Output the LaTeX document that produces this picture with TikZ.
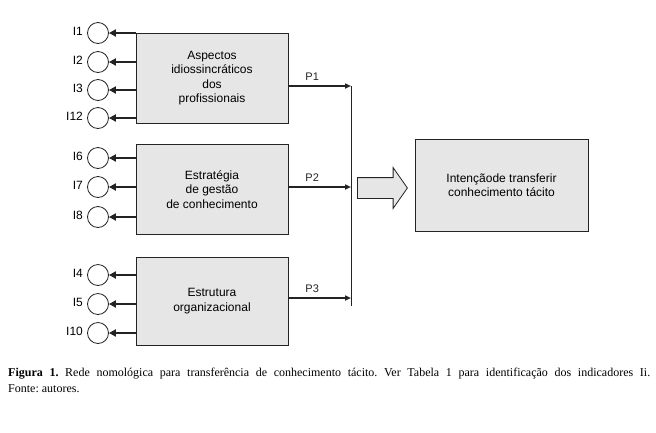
\documentclass[tikz,border=0pt]{standalone}
\usepackage{fontspec}
\setmainfont{Liberation Serif}
\setsansfont{Liberation Sans}
\usetikzlibrary{shapes.arrows,arrows.meta,positioning,calc}
\definecolor{boxgray}{RGB}{230,230,230}
\definecolor{inkgray}{RGB}{35,35,35}

\begin{document}
\begin{tikzpicture}[x=1pt, y=-1pt,
  every node/.style={font=\sffamily\fontsize{12}{14.5}\selectfont},
  constr/.style={draw=inkgray, line width=0.9pt, fill=boxgray, minimum width=152pt, minimum height=90pt, align=center, inner sep=0pt},
  ind/.style={draw=inkgray, line width=0.8pt, circle, minimum size=21pt, inner sep=0pt, fill=white},
  ilabel/.style={font=\sffamily\fontsize{12}{14}\selectfont, inner sep=0pt},
  load/.style={-{Triangle[length=7pt,width=7pt]}, line width=2pt, inkgray},
  hyp/.style={-{Triangle[length=6pt,width=5pt]}, line width=1.6pt, inkgray}
]
\useasboundingbox (0,0) rectangle (656,432);

% constructs
\node[constr] (b1) at (212,78) {Aspectos\\idiossincráticos\\dos\\profissionais};
\node[constr] (b2) at (212,189.5) {Estratégia\\de gestão\\de conhecimento};
\node[constr, minimum height=88pt] (b3) at (212,301) {Estrutura\\organizacional};

% indicators
\foreach \n/\y/\b in {1/33/b1, 2/62/b1, 3/90/b1, 12/118/b1, 6/158/b2, 7/187/b2, 8/217/b2, 4/275/b3, 5/304/b3, 10/333/b3}
{
  \node[ind, label={[ilabel, label distance=4pt, yshift=1.5pt]left:I\n}] (i\n) at (98,\y) {};
  \draw[load] (\b.west |- i\n) -- (i\n);
}

% paths
\coordinate (j1) at (351,86);
\coordinate (j2) at (351,187);
\coordinate (j3) at (351,298);
\coordinate (jb) at (351,306);
\draw[inkgray, line width=0.9pt] (j1) -- (jb);
\draw[hyp] (b1.east |- j1) -- node[pos=0.38, above=1pt, font=\sffamily\fontsize{11}{13}\selectfont] {P1} (j1);
\draw[hyp] (b2.east |- j2) -- node[pos=0.38, above=1pt, font=\sffamily\fontsize{11}{13}\selectfont] {P2} (j2);
\draw[hyp] (b3.east |- j3) -- node[pos=0.38, above=1pt, font=\sffamily\fontsize{11}{13}\selectfont] {P3} (j3);

% outcome
\node[single arrow, draw=inkgray, fill=boxgray, line width=0.8pt, inner xsep=0pt, inner ysep=10pt, minimum height=50pt, single arrow head extend=10pt, single arrow tip angle=110, anchor=tail] (flow) at (357,188) {};
\node[constr, minimum width=173pt, minimum height=92pt] (intent) at (501.5,185) {Intençãode transferir\\conhecimento tácito};

% caption
\node[anchor=north west, text width=642pt, align=justify, inner sep=0pt, font=\rmfamily\fontsize{12}{16}\selectfont\frenchspacing] (caption) at (8,368) {\textbf{Figura 1.} Rede nomológica para transferência de conhecimento tácito. Ver Tabela 1 para identificação dos indicadores Ii.\linebreak Fonte: autores.};
\end{tikzpicture}
\end{document}
